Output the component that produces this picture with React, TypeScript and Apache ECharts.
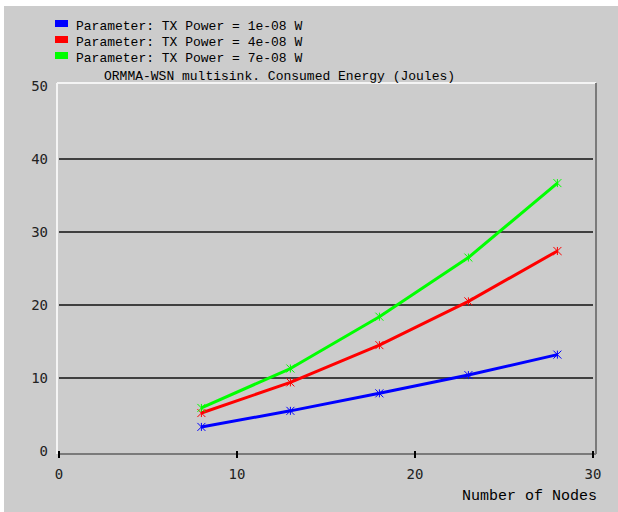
import React, { useEffect, useRef } from "react";
import * as echarts from "echarts";

// Number of nodes in the network
const nodes = [8, 13, 18, 23, 28];

// Consumed energy (Joules) per TX power setting
const energy1e8 = [3.3, 5.5, 7.9, 10.4, 13.2];
const energy4e8 = [5.2, 9.4, 14.5, 20.5, 27.4];
const energy7e8 = [5.9, 11.3, 18.4, 26.5, 36.7];

const seriesNames = [
  "Parameter: TX Power = 1e-08 W",
  "Parameter: TX Power = 4e-08 W",
  "Parameter: TX Power = 7e-08 W",
];
const seriesColors = ["#0000ff", "#ff0000", "#00ff00"];

const titleText = "ORMMA-WSN multisink. Consumed Energy (Joules)";
const xAxisName = "Number of Nodes";

const MONO = "'Liberation Mono', 'DejaVu Sans Mono', monospace";
const LABEL_FONT = "'DejaVu Sans Mono', monospace";

export default function App() {
  const ref = useRef<HTMLDivElement>(null);

  useEffect(() => {
    if (!ref.current) return;
    const chart = echarts.init(ref.current, undefined, { renderer: "svg" });

    const pairs = (ys: number[]) => nodes.map((x, i) => [x, ys[i]]);
    const data = [energy1e8, energy4e8, energy7e8];

    const frameLeft = 57;
    const frameTop = 83;
    const frameRight = 596;
    const frameBottom = 454;

    // Legend: colour swatch plus label per series, one row every 16px
    const legendItems = seriesNames.flatMap((name, i) => [
      {
        type: "rect",
        silent: true,
        shape: { x: 55, y: 20 + i * 16, width: 13, height: 7 },
        style: { fill: seriesColors[i] },
      },
      {
        type: "text",
        silent: true,
        x: 76,
        y: 26 + i * 16,
        style: {
          text: name,
          fontFamily: MONO,
          fontSize: 13,
          fill: "#000",
          align: "left",
          verticalAlign: "middle",
        },
      },
    ]);

    chart.setOption({
      animation: false,
      backgroundColor: "#ffffff",
      title: {
        text: titleText,
        left: 99,
        top: 65,
        textStyle: { fontFamily: MONO, fontSize: 13, fontWeight: "normal", color: "#000" },
      },
      grid: { left: 59, right: 25, top: 86, bottom: 61 },
      xAxis: {
        type: "value",
        min: 0,
        max: 30,
        interval: 10,
        offset: 3,
        axisLine: { show: false },
        axisTick: { show: true, length: 7, lineStyle: { color: "#000", width: 2 } },
        axisLabel: { margin: 13, fontFamily: LABEL_FONT, fontSize: 14, color: "#222" },
        splitLine: { show: false },
      },
      yAxis: {
        type: "value",
        min: 0,
        max: 50,
        interval: 10,
        axisLine: { show: false },
        axisTick: { show: false },
        axisLabel: { margin: 11, fontFamily: LABEL_FONT, fontSize: 14, color: "#222" },
        splitLine: {
          show: true,
          showMinLine: false,
          showMaxLine: false,
          lineStyle: { color: "#111", width: 1.5 },
        },
      },
      graphic: [
        {
          type: "rect",
          z: -10,
          silent: true,
          shape: { x: 4, y: 6, width: 614, height: 506 },
          style: { fill: "#cccccc" },
        },
        {
          type: "line",
          silent: true,
          shape: { x1: frameLeft, y1: frameTop, x2: frameRight, y2: frameTop },
          style: { stroke: "#f4f4f4", lineWidth: 2 },
        },
        {
          type: "line",
          silent: true,
          shape: { x1: frameLeft, y1: frameTop, x2: frameLeft, y2: frameBottom },
          style: { stroke: "#f4f4f4", lineWidth: 2 },
        },
        {
          type: "line",
          silent: true,
          shape: { x1: frameRight, y1: frameTop, x2: frameRight, y2: frameBottom },
          style: { stroke: "#7a7a7a", lineWidth: 2 },
        },
        {
          type: "line",
          silent: true,
          shape: { x1: frameLeft + 1, y1: frameBottom, x2: frameRight, y2: frameBottom },
          style: { stroke: "#7a7a7a", lineWidth: 2 },
        },
        ...legendItems,
        {
          type: "text",
          silent: true,
          x: 597,
          y: 496,
          style: {
            text: xAxisName,
            fontFamily: MONO,
            fontSize: 15,
            fill: "#000",
            align: "right",
            verticalAlign: "middle",
          },
        },
      ],
      series: seriesNames.map((name, i) => ({
        name,
        type: "line",
        data: pairs(data[i]),
        showSymbol: true,
        symbol: "path://M0 0L8 8M8 0L0 8M4 0L4 8",
        symbolSize: 8,
        color: seriesColors[i],
        lineStyle: { width: 3, color: seriesColors[i] },
        itemStyle: { color: seriesColors[i], borderColor: seriesColors[i], borderWidth: 1 },
      })),
    });

    return () => chart.dispose();
  }, []);

  return (
    <div
      ref={ref}
      style={{ position: "fixed", left: 0, top: 0, width: 618, height: 512 }}
    />
  );
}
